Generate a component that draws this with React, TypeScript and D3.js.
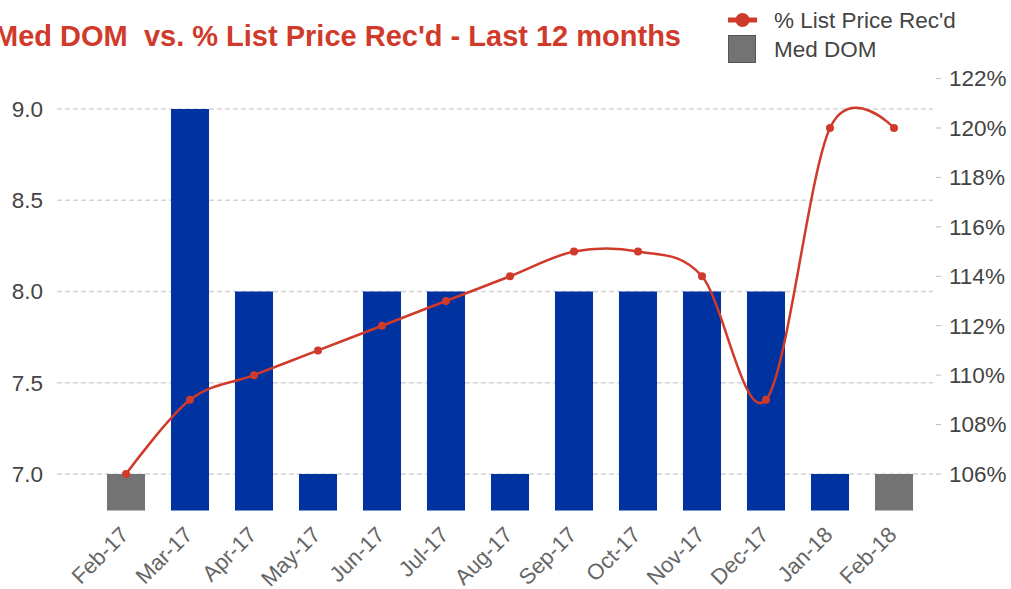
import React from "react";
import * as d3 from "d3";

const months = [
  "Feb-17", "Mar-17", "Apr-17", "May-17", "Jun-17", "Jul-17", "Aug-17",
  "Sep-17", "Oct-17", "Nov-17", "Dec-17", "Jan-18", "Feb-18",
];
const medDom = [7, 9, 8, 7, 8, 8, 7, 8, 8, 8, 8, 7, 7];
const listPricePct = [106, 109, 110, 111, 112, 113, 114, 115, 115, 114, 109, 120, 120];
const leftTicks = [7.0, 7.5, 8.0, 8.5, 9.0];
const rightTicks = [106, 108, 110, 112, 114, 116, 118, 120, 122];

const W = 1011;
const H = 589;
const gridLeft = 57;
const gridRight = 933;

const BLUE = "#0033a0";
const GREY = "#737373";
const RED = "#d03a2b";
const TEXT = "#444444";

const App = () => {
  const x = d3
    .scaleBand<string>()
    .domain(months)
    .range([94, 926])
    .paddingInner(0.406)
    .paddingOuter(0.203);

  const yLeft = d3.scaleLinear().domain([6.8, 9]).range([510.5, 109]);
  const yRight = d3.scaleLinear().domain([106, 120]).range([474, 128]);

  const cx = (m: string) => (x(m) ?? 0) + x.bandwidth() / 2;

  const line = d3
    .line<number>()
    .x((_, i) => cx(months[i]))
    .y((d) => yRight(d))
    .curve(d3.curveCardinal.tension(0));

  return (
    <svg
      width={W}
      height={H}
      style={{ position: "absolute", left: 0, top: 0, background: "#fff" }}
      fontFamily="'Liberation Sans', Arial, sans-serif"
    >
      {/* title (clipped at the left edge, as in the source) */}
      <text
        x={681}
        y={46}
        textAnchor="end"
        fontSize={29}
        fontWeight="bold"
        fill={RED}
        style={{ whiteSpace: "pre" }}
      >
        {"Med DOM  vs. % List Price Rec'd - Last 12 months"}
      </text>

      {/* legend */}
      <g>
        <line x1={728} x2={757} y1={20} y2={20} stroke={RED} strokeWidth={5} />
        <circle cx={742.5} cy={20} r={7} fill={RED} />
        <text x={774} y={28} fontSize={22.5} fill={TEXT}>% List Price Rec'd</text>
        <rect x={728.5} y={35.5} width={27} height={27} fill={GREY} stroke="#555" />
        <text x={774} y={57} fontSize={22.5} fill={TEXT}>Med DOM</text>
      </g>

      {/* grid + left axis */}
      {leftTicks.map((t) => (
        <g key={t}>
          <line
            x1={gridLeft}
            x2={gridRight}
            y1={yLeft(t)}
            y2={yLeft(t)}
            stroke="#d4d4d4"
            strokeWidth={1.5}
            strokeDasharray="5,3"
          />
          <text
            x={43}
            y={yLeft(t)}
            dy="0.35em"
            textAnchor="end"
            fontSize={22.5}
            fill={TEXT}
          >
            {t.toFixed(1)}
          </text>
        </g>
      ))}

      {/* right axis */}
      {rightTicks.map((t) => (
        <g key={t}>
          <line x1={936} x2={941} y1={yRight(t)} y2={yRight(t)} stroke="#bbb" />
          <text x={949} y={yRight(t)} dy="0.35em" fontSize={22.5} fill={TEXT}>
            {t}%
          </text>
        </g>
      ))}

      {/* bars */}
      {medDom.map((v, i) => (
        <rect
          key={months[i]}
          x={x(months[i])}
          width={x.bandwidth()}
          y={yLeft(v)}
          height={yLeft(6.8) - yLeft(v)}
          fill={i === 0 || i === months.length - 1 ? GREY : BLUE}
        />
      ))}

      {/* line */}
      <path d={line(listPricePct) ?? ""} fill="none" stroke={RED} strokeWidth={2.5} />
      {listPricePct.map((v, i) => (
        <circle key={months[i]} cx={cx(months[i])} cy={yRight(v)} r={4} fill={RED} />
      ))}

      {/* x labels */}
      {months.map((m) => (
        <text
          key={m}
          transform={`translate(${cx(m) + 4},${536}) rotate(-45)`}
          textAnchor="end"
          fontSize={22}
          fill="#666"
        >
          {m}
        </text>
      ))}
    </svg>
  );
};

export default App;
